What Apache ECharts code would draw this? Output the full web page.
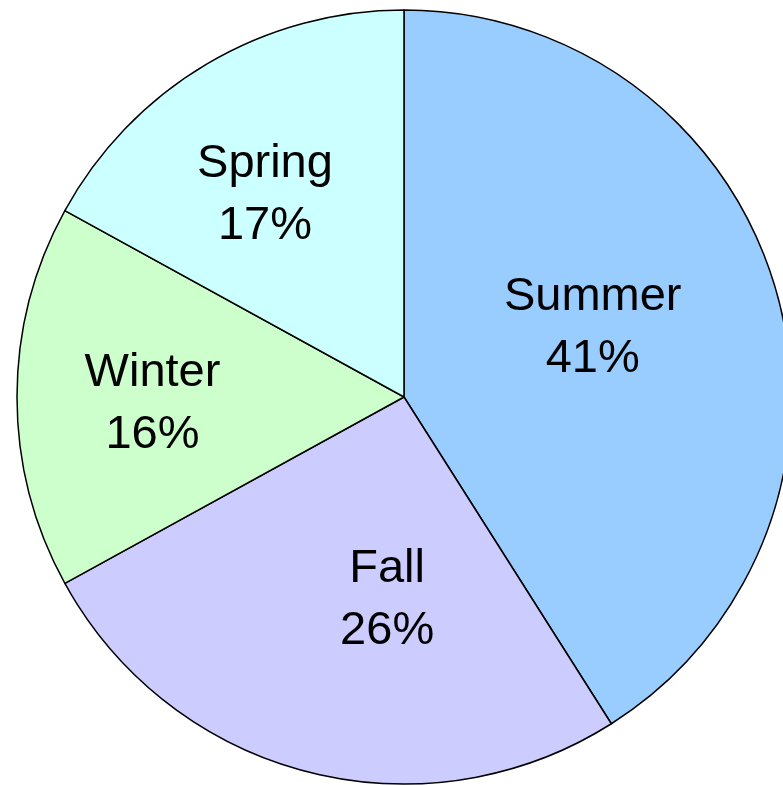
<!DOCTYPE html>
<html>
<head>
<meta charset="utf-8">
<script src="https://cdn.jsdelivr.net/npm/echarts@6/dist/echarts.min.js"></script>
<style>
  html, body { margin: 0; padding: 0; background: #fff; }
  #pie { width: 783px; height: 785px; }
</style>
</head>
<body>
<div id="pie"></div>
<script>
let seasons = ['Summer', 'Fall', 'Winter', 'Spring'];
let percents = [41, 26, 16, 17];

// slice colours and where each label sits (offset from the default inside spot)
let slice_colors = ['#99ccff', '#ccccff', '#ccffcc', '#ccffff'];
let label_offsets = [[0, -14], [32, 13], [-55, 7], [-39, -33]];

function drawPie(){
    let my_chart = echarts.init(document.getElementById('pie'));

    let display_data = seasons.map(function(name, i){
        return {
            name: name,
            value: percents[i],
            itemStyle: { color: slice_colors[i] },
            label: { offset: label_offsets[i] }
        }
    });

    let option = {
        animation: false,
        series: [
            {
                type: 'pie',
                radius: 387,
                center: [404, 397],
                startAngle: 90,
                clockwise: true,
                avoidLabelOverlap: false,
                data: display_data,
                itemStyle: {
                    borderColor: '#000',
                    borderWidth: 1.5
                },
                label: {
                    show: true,
                    position: 'inside',
                    formatter: '{b}\n{c}%',
                    color: '#000',
                    fontFamily: 'Liberation Sans, Arial, sans-serif',
                    fontSize: 47,
                    lineHeight: 62,
                    align: 'center'
                },
                labelLine: { show: false },
                emphasis: { disabled: true }
            }
        ]
    }

    my_chart.setOption(option);
}

drawPie();
</script>
</body>
</html>
